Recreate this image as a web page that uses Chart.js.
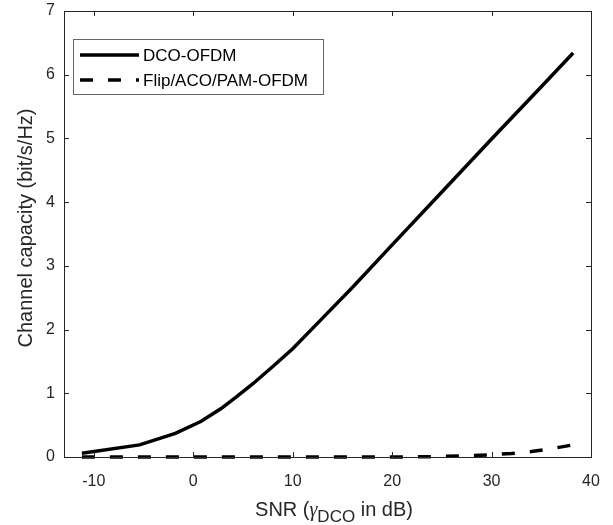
<!DOCTYPE html>
<html>
<head>
<meta charset="utf-8">
<script src="https://cdn.jsdelivr.net/npm/chart.js@4.4.1/dist/chart.umd.min.js"></script>
<style>
  html, body { margin: 0; padding: 0; background: #fff; }
  #wrap { width: 613px; height: 525px; }
</style>
</head>
<body>
<div id="wrap"><canvas id="chart" width="613" height="525"></canvas></div>
<script>
// SNR (dB) sample points and capacities
var snrDco = [-11.2, -5.4, -1.8, 0.8, 2.8, 4.4, 6, 8, 10, 13, 16, 20, 25, 30, 35, 38.2];
var capDco = [0.06, 0.19, 0.37, 0.56, 0.76, 0.95, 1.15, 1.42, 1.70, 2.18, 2.66, 3.33, 4.16, 4.99, 5.81, 6.34];

var snrFlip = [-11.2, -5, 0, 5, 10, 15, 20, 24, 28, 30, 32, 34, 36, 38.2];
var capFlip = [0, 0, 0, 0, 0, 0, 0, 0.005, 0.02, 0.035, 0.055, 0.085, 0.13, 0.19];

var xTicks = [-10, 0, 10, 20, 30, 40];
var yTicks = [0, 1, 2, 3, 4, 5, 6, 7];

var axisColor = '#262626';
var fontFam = '"Liberation Sans", Arial, sans-serif';

function toPoints(xs, ys) {
    var pts = [];
    for (var i = 0; i < xs.length; i++) pts.push({ x: xs[i], y: ys[i] });
    return pts;
}

// box, inward ticks, legend and the x title with subscript
var matlabLook = {
    id: 'matlabLook',
    afterDraw: function (chart) {
        var ctx = chart.ctx;
        var a = chart.chartArea;
        var xs = chart.scales.x, ys = chart.scales.y;
        var tl = 5;
        ctx.save();
        ctx.strokeStyle = axisColor;
        ctx.lineWidth = 1;
        ctx.strokeRect(Math.round(a.left) + 0.5, Math.round(a.top) + 0.5,
            Math.round(a.right - a.left), Math.round(a.bottom - a.top));
        ctx.beginPath();
        xTicks.forEach(function (v) {
            var px = Math.round(xs.getPixelForValue(v)) + 0.5;
            ctx.moveTo(px, a.bottom); ctx.lineTo(px, a.bottom - tl);
            ctx.moveTo(px, a.top); ctx.lineTo(px, a.top + tl);
        });
        yTicks.forEach(function (v) {
            var py = Math.round(ys.getPixelForValue(v)) + 0.5;
            ctx.moveTo(a.left, py); ctx.lineTo(a.left + tl, py);
            ctx.moveTo(a.right, py); ctx.lineTo(a.right - tl, py);
        });
        ctx.stroke();

        // legend
        var lx = 73.5, ly = 39.5, lw = 250, lh = 55;
        ctx.fillStyle = '#fff';
        ctx.fillRect(lx, ly, lw, lh);
        ctx.strokeStyle = '#666';
        ctx.strokeRect(lx, ly, lw, lh);
        ctx.font = '17px ' + fontFam;
        ctx.textBaseline = 'middle';
        ctx.textAlign = 'left';
        chart.data.datasets.forEach(function (ds, i) {
            var yy = 55 + i * 25;
            ctx.strokeStyle = ds.borderColor;
            ctx.lineWidth = ds.borderWidth;
            ctx.setLineDash(ds.borderDash || []);
            ctx.beginPath();
            ctx.moveTo(80, yy); ctx.lineTo(139, yy);
            ctx.stroke();
            ctx.setLineDash([]);
            ctx.fillStyle = '#000';
            ctx.fillText(ds.label, 143, yy + 1);
        });

        // x title: SNR (γ_DCO in dB)
        var base = 516;
        var f1 = '20px ' + fontFam, fg = 'italic 20px "Liberation Serif", "Times New Roman", serif', fs = '17px ' + fontFam;
        var parts = [
            { t: 'SNR (', f: f1, dy: 0 },
            { t: 'γ', f: fg, dy: 0 },
            { t: 'DCO', f: fs, dy: 6 },
            { t: ' in dB)', f: f1, dy: 0 }
        ];
        var total = 0;
        parts.forEach(function (p) { ctx.font = p.f; p.w = ctx.measureText(p.t).width; total += p.w; });
        var cx = 334 - total / 2;
        ctx.fillStyle = axisColor;
        ctx.textBaseline = 'alphabetic';
        parts.forEach(function (p) {
            ctx.font = p.f;
            ctx.fillText(p.t, cx, base + p.dy);
            cx += p.w;
        });

        // y title
        ctx.save();
        ctx.translate(32, 228);
        ctx.rotate(-Math.PI / 2);
        ctx.font = f1;
        ctx.textAlign = 'center';
        ctx.fillText('Channel capacity (bit/s/Hz)', 0, 0);
        ctx.restore();
        ctx.restore();
    }
};

var chart = new Chart(document.getElementById('chart'), {
    type: 'line',
    data: {
        datasets: [{
            label: 'DCO-OFDM',
            data: toPoints(snrDco, capDco),
            borderColor: '#000',
            borderWidth: 3.5,
            pointRadius: 0,
            fill: false,
            tension: 0,
            clip: 6
        }, {
            label: 'Flip/ACO/PAM-OFDM',
            data: toPoints(snrFlip, capFlip),
            borderColor: '#000',
            borderWidth: 3.5,
            borderDash: [13, 15],
            pointRadius: 0,
            fill: false,
            tension: 0,
            clip: 6
        }]
    },
    options: {
        responsive: false,
        animation: false,
        layout: { padding: { top: 11, right: 22, left: 0, bottom: 0 } },
        plugins: { legend: { display: false }, tooltip: { enabled: false } },
        scales: {
            x: {
                type: 'linear',
                min: -13,
                max: 40,
                afterBuildTicks: function (s) { s.ticks = xTicks.map(function (v) { return { value: v }; }); },
                afterFit: function (s) { s.height = 68; s.paddingLeft = 0; s.paddingRight = 0; },
                grid: { display: false, drawTicks: false },
                border: { display: false },
                ticks: { padding: 15, color: axisColor, font: { size: 16, family: fontFam } }
            },
            y: {
                min: 0,
                max: 7,
                afterBuildTicks: function (s) { s.ticks = yTicks.map(function (v) { return { value: v }; }); },
                afterFit: function (s) { s.width = 64; s.paddingTop = 0; s.paddingBottom = 0; },
                grid: { display: false, drawTicks: false },
                border: { display: false },
                ticks: { padding: 9, color: axisColor, font: { size: 16, family: fontFam } }
            }
        }
    },
    plugins: [matlabLook]
});
</script>
</body>
</html>
